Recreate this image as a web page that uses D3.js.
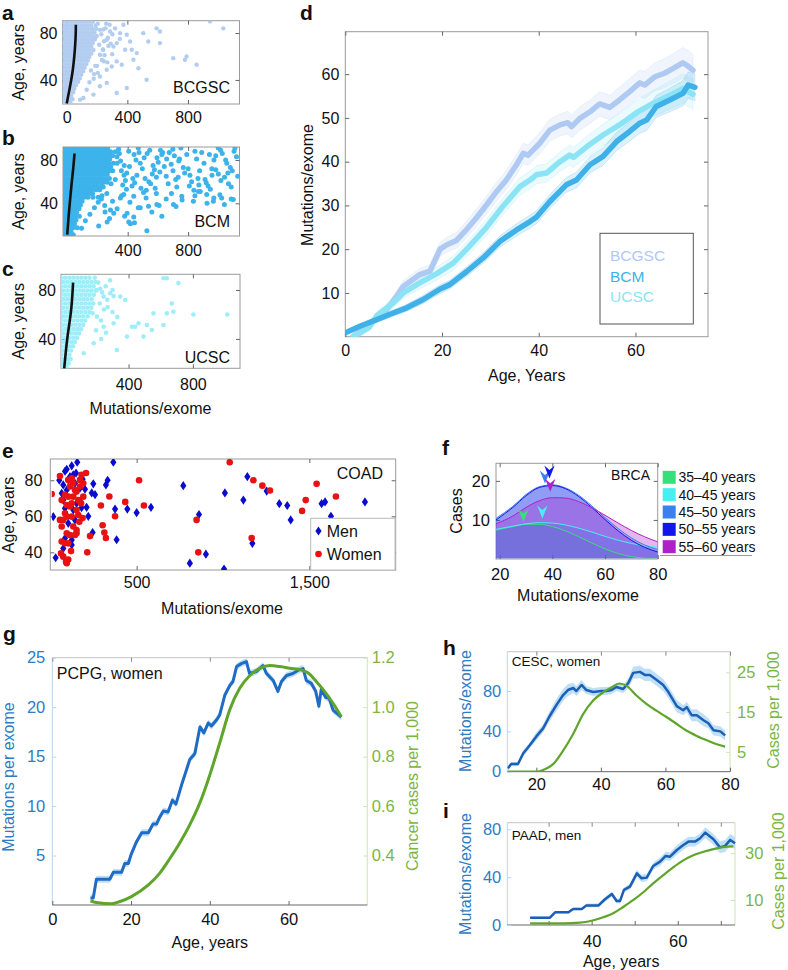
<!DOCTYPE html>
<html>
<head>
<meta charset="utf-8">
<script src="https://cdn.jsdelivr.net/npm/d3@7"></script>
<style>
body { margin: 0; background: #fff; }
svg { font-family: "Liberation Sans", Arial, Helvetica, sans-serif; }
</style>
</head>
<body>
<svg id="fig" width="788" height="970"></svg>
<script>
// ---------------- data ----------------

// a-c: dense part written as rows [age, mutations...], sparse part as [mutations, age]
const aRows = [
   [89.5, -26, -4, 18, 40, 62, 84, 106, 128, 150, 172],
   [86.5, -15, 7, 29, 51, 73, 95, 117, 139, 161, 190],
   [83.5, -26, -4, 18, 40, 62, 84, 106, 128, 150, 172, 196],
   [80.5, -15, 7, 29, 51, 73, 95, 117, 139, 161, 183],
   [77.5, -26, -4, 18, 40, 62, 84, 106, 128, 150, 172, 198],
   [74.5, -15, 7, 29, 51, 73, 95, 117, 139, 161, 185],
   [71.5, -26, -4, 18, 40, 62, 84, 106, 128, 150, 172],
   [68.5, -15, 7, 29, 51, 73, 95, 117, 139, 161],
   [65.5, -26, -4, 18, 40, 62, 84, 106, 128, 150, 176],
   [62.5, -15, 7, 29, 51, 73, 95, 117, 139, 162],
   [59.5, -26, -4, 18, 40, 62, 84, 106, 128, 148],
   [56.5, -15, 7, 29, 51, 73, 95, 117, 139],
   [53.5, -26, -4, 18, 40, 62, 84, 106, 130],
   [50.5, -15, 7, 29, 51, 73, 95, 118],
   [47.5, -26, -4, 18, 40, 62, 84, 108],
   [44.5, -15, 7, 29, 51, 73, 96],
   [41.5, -26, -4, 18, 40, 62, 86],
   [38.5, -15, 7, 29, 51, 75],
   [35.5, -26, -4, 18, 40, 60],
   [32.5, -15, 7, 29, 50],
   [29.5, -26, -4, 18, 42],
   [26.5, -15, 7, 29],
   [23.5, -26, -4, 18, 38],
   [20.5, -15, 7, 24]
];
const aOuter = [[219,82.7],[286,81.3],[319,84],[330,71.4],[352,79.9],[374,87],[396,78.5],[418,72.8],[429,65.7],
   [440,57.2],[462,62.9],[473,50],[505,79.9],[527,40.2],[538,72.8],[593,84],[615,71.4],[615,81.3],[703,58.6],
   [791,60],[780,57.2],[857,53],[945,89.9],[1033,84],[330,28.9],[396,33.2],[219,43],[264,48.7],[297,51.5],
   [330,55.8],[363,53],[219,34.6],[264,37.5],[176,27.5],[132,31.7],[110,24.6],[88,23.2],[385,65.7],[308,68.5],
   [264,74.2],[241,65.7],[219,61.5],[187,75.6],[260,88],[300,62],[350,75],[245,56],[275,69],[200,52],[180,45],
   [150,38],[240,83],[205,88],[228,79],[214,70],[238,66],[256,84],[272,76],[249,61],[290,71],[232,57],[268,55],
   [188,52],[205,46],[178,41],[160,48],[283,87],[301,79],[246,73]];
const aTrend = [[0,20],[15,30],[30,40],[42,50],[50,60],[56,70],[60,80],[60,87]];

const bRows = [
   [91, -25, 0, 25, 50, 75, 100, 125, 150, 175, 200, 225, 250, 268],
   [87.5, -13, 12, 37, 62, 87, 112, 137, 162, 187, 212, 237, 262, 287, 318],
   [84, -25, 0, 25, 50, 75, 100, 125, 150, 175, 200, 225, 250, 275, 300],
   [80.5, -13, 12, 37, 62, 87, 112, 137, 162, 187, 212, 237, 262, 281],
   [77, -25, 0, 25, 50, 75, 100, 125, 150, 175, 200, 225, 250, 275, 305, 330],
   [73.5, -13, 12, 37, 62, 87, 112, 137, 162, 187, 212, 237, 262, 287],
   [70, -25, 0, 25, 50, 75, 100, 125, 150, 175, 200, 225, 250, 278, 301],
   [66.5, -13, 12, 37, 62, 87, 112, 137, 162, 187, 212, 237, 265],
   [63, -25, 0, 25, 50, 75, 100, 125, 150, 175, 200, 225, 252, 279],
   [59.5, -13, 12, 37, 62, 87, 112, 137, 162, 187, 212, 240, 264],
   [56, -25, 0, 25, 50, 75, 100, 125, 150, 175, 200, 228],
   [52.5, -13, 12, 37, 62, 87, 112, 137, 162, 190, 215],
   [49, -25, 0, 25, 50, 75, 100, 125, 150, 168],
   [45.5, -13, 12, 37, 62, 87, 112, 137, 170, 205],
   [42, -25, 0, 25, 50, 75, 98],
   [38.5, -13, 12, 37, 62, 87],
   [35, -25, 0, 25, 50, 78],
   [31.5, -13, 12, 37, 62],
   [28, -25, 0, 25, 50, 80],
   [24.5, -13, 12, 37, 58],
   [21, -25, 0, 25, 48],
   [17.5, -13, 12, 37, 66],
   [14, -25, 0, 25],
   [11, -13, 12, 40]
];
const bOuter = [[208,19],[264,22.7],[286,33.8],[308,30.8],[396,30.8],[407,22.7],[440,27.3],[527,14.7],[418,21],
   [352,45],[374,48.1],[440,46.6],[483,35.8],[538,37.3],[626,28.1],[593,38.9],[703,38.9],[758,46.6],[835,42],
   [923,48.1],[967,42],[1022,45],[1099,43.5],[868,51],[150,30],[180,36],[120,24],[205,41],[230,47],[95,17],
   [318,62],[905,77],[442,85],[1067,58],[577,71],[699,90],[353,79],[812,66],[488,54],[1120,83],
   [631,87],[394,68],[957,72],[540,60],[743,81],[1015,89],[367,57],[865,63],[602,78],[470,91],
   [1092,70],[725,55],[412,74],[983,84],[655,65],[529,86],[838,52],[340,90],[1041,64],[768,73],
   [455,80],[920,59],[688,76],[385,61],[1104,88],[563,67],[791,85],[497,72],[947,53],[617,89],
   [329,83],[876,70],[718,62],[1056,77],[429,56],[594,82],[1000,67],[752,91],[515,63],[890,87],
   [668,58],[377,75],[971,80],[546,89],[823,60],[1079,73],[461,66],[709,84],[932,56],[642,74],
   [407,88],[1128,65],[582,54],[856,81],[358,70],[1026,86],[777,68],[483,77],[912,62],[626,85],
   [999,91],[552,58],[738,79],[434,63],[1085,55],[675,87],[800,72],[345,86],[958,66],[509,82],
   [871,57],[613,69],[1048,80],[392,53],[734,64],[1110,91],[568,75],[845,88],[446,59],[983,71],
   [658,81],[523,52],[1063,68],[808,56],[376,66],[941,85],[700,70],[475,87],[1017,61],[590,64],
   [360,47],[415,41],[522,45],[608,38],[690,49],[760,43],[845,47],[925,40],[1010,48],[1085,44],
   [470,36],[560,32],[380,28],[445,22],[330,35],[505,50],[655,44],[720,37],[880,51],[970,45],
   [1040,39],[590,49],[300,42],[280,26],[250,32],[238,55],[262,49],[226,44],[290,58],[248,38]];
const bTrend = [[0,11],[10,30],[20,45],[30,60],[40,72],[48,86]];

const cRows = [
   [90, -18, 7, 32, 57, 82, 107, 132, 157],
   [86.5, -6, 19, 44, 69, 94, 119, 144, 169, 194],
   [83, -18, 7, 32, 57, 82, 107, 132, 157, 182],
   [79.5, -6, 19, 44, 69, 94, 119, 144, 169, 196],
   [76, -18, 7, 32, 57, 82, 107, 132, 157, 184],
   [72.5, -6, 19, 44, 69, 94, 119, 144, 170],
   [69, -18, 7, 32, 57, 82, 107, 132, 157, 180],
   [65.5, -6, 19, 44, 69, 94, 119, 144, 168],
   [62, -18, 7, 32, 57, 82, 107, 132, 158],
   [58.5, -6, 19, 44, 69, 94, 119, 146],
   [55, -18, 7, 32, 57, 82, 107, 130],
   [51.5, -6, 19, 44, 69, 94, 118],
   [48, -18, 7, 32, 57, 82, 104],
   [44.5, -6, 19, 44, 69, 92],
   [41, -18, 7, 32, 57, 80],
   [37.5, -6, 19, 44, 66],
   [34, -18, 7, 32, 55],
   [30.5, -6, 19, 42],
   [27, -18, 7, 32],
   [23.5, -6, 19, 40],
   [20, -18, 7, 28],
   [17, -6, 15]
];
const cOuter = [[203,80],[224,81],[245,74.6],[286,77.3],[307,75],[348,74.6],[379,71.8],[390,41.9],[307,52.8],
   [245,50],[203,58.2],[183,36.5],[327,31],[121,28.3],[441,50],[493,41.9],[545,47.3],[617,51.4],[638,60.9],
   [669,69],[679,62.2],[617,89.6],[638,89.6],[710,85.6],[803,60],[1014,60],[555,60.9],[514,51.4],[462,52.8],
   [421,50],[270,66],[300,62],[330,58],[260,45],[230,40],[212,86],[236,78],[258,83],[221,69],[247,64],[268,72],
   [229,55],[198,47],[176,61],[285,88],[300,80],[190,90]];
const cTrend = [[0,16],[10,30],[20,42],[35,55],[45,65],[52,78],[55,86]];

// d: mutations/exome by age for the three centres, with band half widths
const bcgscAge = [2,4,6,8,10.6,12,15.4,17.5,19.6,21,23,25,27,29.2,31.3,33.3,35.4,36.8,37.8,40.2,42.3,44.4,46,46.8,48.5,50.6,52.6,54.7,56.7,58.8,60.9,61.9,64,66,67.8,69.8,70.9,71.9];
const bcgscVal = [0.5,1.8,3.8,5.4,9.2,11.5,14.2,15,20,21,22,24.4,27,30.1,33.2,35.8,39.3,41.9,41.5,44.2,47.2,48.4,48.9,48,49.9,51.4,53.2,52.4,54.1,56,58,57.5,59.4,60.2,61.3,62.6,61.8,60.9];
const bcgscBand = [0.5,0.6,0.8,1,1.2,1.3,1.4,1.5,1.6,1.7,1.8,1.9,2,2,2.1,2.2,2.3,2.3,2.3,2.4,2.5,2.5,2.6,2.6,2.7,2.7,2.8,2.8,2.9,3,3,3.1,3.2,3.3,3.4,3.5,3.6,3.6];
const ucscAge = [1.5,3,5,6.5,9.9,12,15.4,18.9,22.3,25.8,29.2,32.6,36.1,38.2,39.5,41.6,44.4,46.4,47.2,49.9,53.3,56.7,60.2,63.6,67.1,69.8,71.9];
const ucscVal = [0,0.8,2.2,4.8,7.7,10,12.3,14.4,16.8,20.8,25,29.8,34.3,35.8,37,37.4,40,41.5,41,43.4,46.1,48.4,51.2,53.3,55.2,56.7,55.4];
const ucscBand = [0.4,0.5,0.7,0.9,1.1,1.2,1.4,1.5,1.6,1.7,1.8,1.9,2,2,2.1,2.1,2.2,2.3,2.3,2.4,2.5,2.6,2.8,3,3.2,3.4,3.5];
const bcmAge = [0,3,6.5,9.9,12.7,16.1,19.6,21.6,25.1,28.5,32,35.4,38.2,39.5,42.3,45.7,47.8,50.6,53.3,56.1,58.8,60.9,62.3,64.3,67.1,69.8,70.9,72.3];
const bcmVal = [0.9,2.4,3.9,5.4,6.6,8.5,10.9,11.9,14.9,18,21.8,24.4,26.3,27.3,30.9,34.7,35.8,39.3,41.2,44.6,46.9,48.8,49.5,52.6,54.1,55.6,57.5,57];
const bcmBand = [0.4,0.5,0.6,0.7,0.8,0.9,1,1,1.1,1.2,1.3,1.4,1.5,1.5,1.6,1.7,1.8,1.9,2,2.1,2.2,2.3,2.4,2.5,2.7,2.9,3,3.1];
const centres = ["BCGSC", "BCM", "UCSC"];

// e: COAD [mutations, age]
const eMen = [[17,59.8],[31,37],[52,80],[75,69],[85,85],[124,88],[156,90],[149,84],[133,83],[172,75.6],[187,80.6],
   [201,75],[210,65],[220,60],[240,73],[249,78],[259,72],[245,51],[322,77.4],[332,80],[365,90],[375,64],[384,47],
   [446,64],[500,62],[583,65],[770,77],[808,34],[861,61],[901,39],[1006,30.7],[1011,73],[1118,69],[1141,82],
   [1170,45],[1253,74],[1326,67],[1372,66],[1392,58],[1571,67],[1591,68],[1625,60],[1822,68],
   [75,77.4],[95,86.1],[104,80.2],[66,72.8],[85,64.4],[104,56.1],[85,47.8],[75,42.2],[124,46.9],[124,44.1],
   [143,58],[133,63.5],[152,67.2],[172,68.5],[114,82],[181,64.8],[143,78.3],[95,74.6]];
const eWomen = [[8,72.4],[56,82.4],[56,58],[66,54.3],[66,46],[62,39.4],[75,37.6],[91,34.8],[104,36],[95,34],
   [120,40.7],[152,50.6],[207,84],[187,59],[214,40],[230,49],[293,66],[303,55],[313,51],[322,48],[342,71],[375,60],
   [434,68],[514,80],[542,66],[847,58],[857,40],[1039,90],[1166,48],[1176,80],[1228,77],[1272,74.3],[1458,63],
   [1479,69],[1542,78],[1654,71],
   [85,45],[95,50.6],[85,61.7],[95,66.3],[104,70.9],[114,76.5],[104,80.2],[124,81.1],[133,78.3],[143,74.6],
   [133,70.9],[124,67.2],[124,59.8],[133,54.3],[114,49.6],[143,49.6],[152,52.4],[104,45],[162,60.7],[172,80.2],
   [181,83],[191,78.3],[178,67.2],[191,70.9],[152,63.5],[168,57],[75,58],[95,59.8],[114,65.4],[152,73.7],
   [66,69],[85,71.9],[172,76.5],[162,69]];

// f: BRCA case distributions by mutations/exome
const fX = [18.6, 25, 30, 35, 40, 45, 50, 55, 60, 65, 70, 75, 80];
const fGroups = ["35–40 years", "40–45 years", "45–50 years", "50–55 years", "55–60 years"];
const fCases = [
   [7.4, 8.3, 8.9, 8.9, 8.3, 7.2, 5.7, 4.1, 2.6, 1.4, 0.6, 0.2, 0.0],
   [7.6, 8.4, 9.0, 9.3, 9.2, 8.7, 7.9, 6.9, 5.8, 4.8, 4.0, 3.4, 3.0],
   [10.4, 13.5, 16.5, 18.5, 19.0, 18.2, 16.3, 13.6, 10.6, 7.8, 5.4, 3.6, 2.4],
   [10.0, 13.2, 16.2, 18.3, 18.8, 18.0, 16.0, 13.2, 10.1, 7.2, 4.8, 3.0, 1.8],
   [9.0, 11.0, 13.2, 14.9, 15.7, 15.6, 14.7, 13.1, 11.2, 9.2, 7.3, 5.7, 4.4]
];
const fPeakX = [29, 36.2, 37.2, 38.9, 39.2];
const fPeakY = [9.5, 10.4, 19.3, 20.6, 17.2];

// g: PCPG, women
const gBlueAge = [9.7,10.4,11.2,14.6,15.5,17.6,18.4,19.3,20.1,21.4,22.7,24.4,25.6,26.5,27.3,28.2,29.4,30.5,31.4,32.8,34.1,34.9,36.2,37.5,38.5,39.6,40.4,41.7,42.5,43.8,45.1,45.9,46.8,48.0,49.3,50.1,51.8,53.5,54.4,56.1,57.3,58.2,59.5,61.1,62.8,63.7,64.5,65.8,66.9,67.7,68.3,69.4,70.3,71.3,73.4];
const gBlueVal = [0.7,0.7,2.6,2.6,3.3,3.3,4.2,4.2,5.2,6.4,7.3,7.3,8.2,8.2,8.9,9.5,9.4,10.6,10.2,12.1,13.7,14.7,15.3,18.0,17.4,18.4,18.1,18.7,19.2,21.2,22.2,22.6,24.1,24.4,24.6,23.4,23.6,24.2,23.4,22.7,21.6,22.6,23.2,23.4,23.8,23.9,22.7,22.4,21.6,20.1,21.8,21.0,20.9,19.7,19.0];
const gBand = 0.35;
const gGreenAge = [9.7,11.2,15.1,17.2,20.1,24.4,27.3,29.9,32.4,34.9,37.5,40.0,42.5,45.1,47.6,50.1,52.7,55.2,57.8,60.3,63.3,64.9,67.1,69.2,71.3,73.4];
const gGreenVal = [0.217,0.210,0.205,0.214,0.234,0.281,0.329,0.389,0.452,0.524,0.614,0.726,0.854,0.991,1.076,1.127,1.157,1.168,1.164,1.157,1.150,1.139,1.103,1.063,1.016,0.962];

// h: CESC, women
const hBlueAge = [11.2,12.2,14.3,15.9,17.9,20,22.1,24.1,26.2,28.3,29.8,31.4,32.4,34.0,35.5,37.6,40.2,41.7,43.3,44.8,46.9,48.5,50.0,52.1,53.6,55.2,57.3,59.3,60.9,62.4,63.5,65.5,66.6,68.1,69.7,71.8,73.3,74.9,77.0,78.5];
const hBlueVal = [3.3,7.6,7.6,18,26,35,43,55,66,76,81,83,80,86,81,79,80,80,81,84,82,88,98,99,96,96,91,86,79,71,65,61,64,56,56,51,48,41,40,36];
const hBand = [2,2,2,3,3,4,4,5,6,6,6,5,5,5,4,4,4,4,4,4,4,5,6,6,6,6,6,6,6,6,6,5,5,6,6,6,5,5,5,5];
const hGreenAge = [11.2,20.5,22.6,25.2,28.3,31.4,34.5,37.6,40.7,43.3,45.7,48.0,51.1,54.2,57.3,60.4,63.5,66.6,69.7,72.8,75.9,78.5];
const hGreenVal = [0,0,0.6,1.9,5.3,9.5,14.5,17.9,20.0,21.2,22.2,21.6,19.1,17.0,15.3,13.7,12.0,10.3,9.0,7.9,6.9,6.3];

// i: PAAD, men
const iBlueAge = [25.7,30.3,31.5,34.6,35.7,37.7,38.8,41.6,43.1,44.7,45.8,46.6,47.5,48.9,50.5,51.6,52.8,54.3,55.9,57.2,58.2,59.8,61.3,62.5,64.0,65.2,66.4,67.5,68.3,69.8,71.0,72.2,73.3];
const iBlueVal = [6.1,6.1,10.6,10.6,13.4,13.4,16.4,16.4,21.5,25.9,20.1,20.1,29.3,32.1,43.2,39.0,39.6,49.3,53.0,57.7,57.1,62.7,66.9,69.7,69.7,72.5,77.2,73.9,71.6,64.9,66.1,71.1,68.3];
const iBand = [1,1,1,1,1,1,1.5,1.5,2,2,2,2,2,2.5,3,3,3,3,3.5,3.5,3.5,4,4,4,4,4,4.5,4.5,4.5,5,5,5,5];
const iGreenAge = [25.7,33.4,37.3,40.0,42.7,45.0,47.4,49.7,52.0,54.3,56.7,59.0,61.3,63.6,66.0,68.3,70.5,72.9];
const iGreenVal = [0,0,0.3,1.1,2.6,4.3,7.1,10.0,13.3,17.1,20.7,24.0,26.9,29.1,30.6,31.7,32.6,32.9];

// ---------------- helpers ----------------
const FONT = '"Liberation Sans", Arial, Helvetica, sans-serif';
const BLUE_TXT = "#2d7cc4";
const GREEN_TXT = "#7db544";
const svg = d3.select("#fig");
const defs = svg.append("defs");

function clip(id, x0, y0, x1, y1) {
   defs.append("clipPath").attr("id", id).append("rect")
      .attr("x", x0).attr("y", y0).attr("width", x1 - x0).attr("height", y1 - y0);
   return `url(#${id})`;
}

function label(txt, x, y, o = {}) {
   const t = svg.append("text").attr("x", x).attr("y", y)
      .attr("font-size", o.size || 16).attr("fill", o.color || "#111")
      .attr("text-anchor", o.anchor || "start").text(txt);
   if (o.bold) t.attr("font-weight", "bold");
   return t;
}

function vlabel(txt, x, cy, o = {}) {
   return svg.append("text").attr("transform", `translate(${x},${cy}) rotate(-90)`)
      .attr("font-size", o.size || 16).attr("fill", o.color || "#111")
      .attr("text-anchor", "middle").text(txt);
}

function styleAxis(sel, tickColor, textColor, size) {
   sel.attr("font-family", null).attr("font-size", null);
   sel.select(".domain").remove();
   sel.selectAll(".tick line").attr("stroke", tickColor);
   sel.selectAll(".tick text").attr("font-family", FONT).attr("font-size", size).attr("fill", textColor);
}

// Matlab-like box with inward ticks on all four sides
function boxAxes(x, y, o) {
   const [x0, x1] = x.range();
   const [y0, y1] = y.range();
   const tk = 4, size = o.size || 16;
   const g = svg.append("g");
   g.append("rect").attr("x", x0).attr("y", y1).attr("width", x1 - x0).attr("height", y0 - y1)
      .attr("fill", "none").attr("stroke", o.stroke || "#9a9a9a");
   g.append("g").attr("transform", `translate(0,${y0})`)
      .call(d3.axisBottom(x).tickValues(o.xTicks).tickSize(-tk).tickPadding(o.xPad || 7).tickFormat(o.xFmt || (d => d)))
      .call(s => styleAxis(s, "#666", "#111", size));
   g.append("g").attr("transform", `translate(0,${y1})`)
      .call(d3.axisTop(x).tickValues(o.xTicks).tickSize(-tk).tickFormat(""))
      .call(s => styleAxis(s, "#666", "#111", size));
   g.append("g").attr("transform", `translate(${x0},0)`)
      .call(d3.axisLeft(y).tickValues(o.yTicks).tickSize(-tk).tickPadding(o.yPad || 6).tickFormat(o.yFmt || (d => d)))
      .call(s => styleAxis(s, "#666", "#111", size));
   g.append("g").attr("transform", `translate(${x1},0)`)
      .call(d3.axisRight(y).tickValues(o.yTicks).tickSize(-tk).tickFormat(""))
      .call(s => styleAxis(s, "#666", "#111", size));
}

function rowsToPoints(rows) {
   return rows.flatMap(r => r.slice(1).map(m => [m, r[0]]));
}

// ---------------- panels a-c ----------------
function scatterPanel(p) {
   const x = d3.scaleLinear().domain(p.xDomain).range([p.left, p.right]);
   const y = d3.scaleLinear().domain(p.yDomain).range([p.bottom, p.top]);
   boxAxes(x, y, { xTicks: p.xTicks, yTicks: [40, 80], xPad: p.xPad, yPad: 5 });
   const pts = rowsToPoints(p.rows).concat(p.outer);
   svg.append("g").attr("clip-path", clip(p.id, p.left, p.top, p.right, p.bottom))
      .selectAll("circle").data(pts).join("circle")
      .attr("cx", d => x(d[0])).attr("cy", d => y(d[1]))
      .attr("r", p.r).attr("fill", p.color);
   svg.append("path").datum(p.trend)
      .attr("fill", "none").attr("stroke", "#111").attr("stroke-width", 2.6)
      .attr("d", d3.line().x(d => x(d[0])).y(d => y(d[1])).curve(d3.curveBasis));
   label(p.name, 230, p.nameY, { anchor: "end" });
   vlabel("Age, years", 24, (p.top + p.bottom) / 2);
   label(p.letter, 2, p.letterY, { bold: true, size: 21 });
}

scatterPanel({ id: "ca", letter: "a", letterY: 20, name: "BCGSC", nameY: 93, rows: aRows, outer: aOuter,
   trend: aTrend, color: "#b3cdf0", r: 2.2, xDomain: [-28, 1140], yDomain: [19.5, 90.5],
   left: 62.5, right: 239.5, top: 20.7, bottom: 104, xTicks: [0, 400, 800], xPad: 8 });
scatterPanel({ id: "cb", letter: "b", letterY: 145, name: "BCM", nameY: 227, rows: bRows, outer: bOuter,
   trend: bTrend, color: "#3cb3ea", r: 2.5, xDomain: [-28, 1140], yDomain: [9.8, 92],
   left: 63, right: 239.5, top: 147, bottom: 236, xTicks: [400, 800], xPad: 9 });
scatterPanel({ id: "cc", letter: "c", letterY: 276, name: "UCSC", nameY: 362.5, rows: cRows, outer: cOuter,
   trend: cTrend, color: "#9eeefa", r: 2.3, xDomain: [-20, 1093], yDomain: [16, 92.8],
   left: 61, right: 240, top: 274.3, bottom: 368.3, xTicks: [400, 800], xPad: 10 });
label("Mutations/exome", 150.5, 414, { anchor: "middle" });

// ---------------- panel d ----------------
{
   const x = d3.scaleLinear().domain([0, 75]).range([345.3, 708]);
   const y = d3.scaleLinear().domain([0, 69.7]).range([336.7, 31.7]);
   boxAxes(x, y, { xTicks: [0, 20, 40, 60], yTicks: [10, 20, 30, 40, 50, 60], xPad: 8, yPad: 6 });
   const series = [
      { age: bcgscAge, val: bcgscVal, band: bcgscBand, color: "#aec9f2" },
      { age: ucscAge, val: ucscVal, band: ucscBand, color: "#8ae4f6" },
      { age: bcmAge, val: bcmVal, band: bcmBand, color: "#3fb1e8" }
   ];
   const g = svg.append("g").attr("clip-path", clip("cd", 345.3, 31.7, 708, 336.7));
   series.forEach(s => {
      const rows = s.age.map((a, i) => [a, s.val[i], s.band[i]]);
      g.append("path").datum(rows).attr("fill", s.color).attr("fill-opacity", 0.18)
         .attr("stroke", s.color).attr("stroke-opacity", 0.25).attr("stroke-width", 0.8)
         .attr("d", d3.area().x(d => x(d[0])).y0(d => y(d[1] - d[2])).y1(d => y(d[1] + d[2])));
   });
   series.forEach(s => {
      const rows = s.age.map((a, i) => [a, s.val[i]]);
      g.append("path").datum(rows).attr("fill", "none").attr("stroke", s.color)
         .attr("stroke-width", 5.5).attr("stroke-linejoin", "round").attr("stroke-linecap", "round")
         .attr("d", d3.line().x(d => x(d[0])).y(d => y(d[1])));
   });
   // legend
   svg.append("rect").attr("x", 600).attr("y", 233.3).attr("width", 93.3).attr("height", 90.7)
      .attr("fill", "#fff").attr("stroke", "#555");
   const legColors = { BCGSC: "#aec9f2", BCM: "#3fb1e8", UCSC: "#8ae4f6" };
   centres.forEach((c, i) => label(c, 610, 261 + i * 20.7, { color: legColors[c], size: 15.5 }));
   vlabel("Mutations/exome", 313, 185);
   label("Age, Years", 526.7, 380.5, { anchor: "middle" });
   label("d", 300, 20, { bold: true, size: 21 });
}

// ---------------- panel e ----------------
{
   const x = d3.scaleLinear().domain([0, 2000]).range([50.3, 395.7]);
   const y = d3.scaleLinear().domain([30.2, 91.8]).range([570, 459]);
   boxAxes(x, y, { xTicks: [500, 1500], yTicks: [40, 60, 80], xFmt: d3.format(","), xPad: 7, yPad: 8 });
   const g = svg.append("g").attr("clip-path", clip("ce", 51.7, 459, 395, 570));
   const diamond = "M0,-4.6L3.1,0L0,4.6L-3.1,0Z";
   g.selectAll("path.men").data(eMen).join("path").attr("class", "men")
      .attr("transform", d => `translate(${x(d[0])},${y(d[1])})`).attr("d", diamond).attr("fill", "#0b0bd0");
   g.selectAll("circle").data(eWomen).join("circle")
      .attr("cx", d => x(d[0])).attr("cy", d => y(d[1])).attr("r", 3.3).attr("fill", "#e81212");
   // legend
   svg.append("rect").attr("x", 310.7).attr("y", 518.3).attr("width", 84.3).attr("height", 51.7)
      .attr("fill", "#fff").attr("stroke", "#bbb");
   svg.append("path").attr("transform", "translate(318.5,531)").attr("d", diamond).attr("fill", "#0b0bd0");
   svg.append("circle").attr("cx", 318.5).attr("cy", 554).attr("r", 3.3).attr("fill", "#e81212");
   label("Men", 326.7, 536.5);
   label("Women", 326.7, 559.5);
   label("COAD", 383, 479, { anchor: "end" });
   vlabel("Age, years", 14, 515);
   label("Mutations/exome", 222, 614, { anchor: "middle" });
   label("e", 2, 458, { bold: true, size: 21 });
}

// ---------------- panel f ----------------
{
   const x = d3.scaleLinear().domain([18.6, 80]).range([496, 657.7]);
   const y = d3.scaleLinear().domain([0, 24.5]).range([559, 463.3]);
   boxAxes(x, y, { xTicks: [20, 40, 60, 80], yTicks: [10, 20], xPad: 9, yPad: 6, size: 16.5 });
   const colors = ["#33e07a", "#45f0f0", "#3a80f0", "#1414ee", "#b020c8"];
   const alpha = [0.35, 0.35, 0.3, 0.3, 0.33];
   const g = svg.append("g").attr("clip-path", clip("cf", 496, 463.3, 657.7, 558.3));
   fCases.forEach((c, k) => {
      const rows = fX.map((v, i) => [v, c[i]]);
      g.append("path").datum(rows).attr("fill", colors[k]).attr("fill-opacity", alpha[k])
         .attr("d", d3.area().x(d => x(d[0])).y0(y(0)).y1(d => y(d[1])).curve(d3.curveMonotoneX));
   });
   fCases.forEach((c, k) => {
      const rows = fX.map((v, i) => [v, c[i]]);
      g.append("path").datum(rows).attr("fill", "none").attr("stroke", colors[k]).attr("stroke-width", 1)
         .attr("d", d3.line().x(d => x(d[0])).y(d => y(d[1])).curve(d3.curveMonotoneX));
   });
   // peak markers
   const arrow = "M0,0L-5.2,-13L0,-8.5L5.2,-13Z";
   fPeakX.forEach((v, k) => {
      svg.append("path").attr("transform", `translate(${x(v)},${y(fPeakY[k])})`)
         .attr("d", arrow).attr("fill", colors[k]);
   });
   label("BRCA", 650, 480, { anchor: "end", size: 14 });
   // legend
   fGroups.forEach((t, k) => {
      const cy = 477.3 + k * 17.35;
      svg.append("rect").attr("x", 662.7).attr("y", cy - 6.5).attr("width", 13).attr("height", 13).attr("fill", colors[k]);
      label(t, 678.5, cy + 5, { size: 14 });
   });
   svg.append("line").attr("x1", 660).attr("x2", 752).attr("y1", 555.5).attr("y2", 555.5)
      .attr("stroke", "#999");
   vlabel("Cases", 462, 511);
   label("Mutations/exome", 578, 601, { anchor: "middle" });
   label("f", 442, 455, { bold: true, size: 21 });
}

// ---------------- panels g-i (two y axes) ----------------
function dualPanel(p) {
   const x = d3.scaleLinear().domain(p.xDomain).range([p.left, p.right]);
   const yL = d3.scaleLinear().domain(p.yLDomain).range([p.bottom, p.top]);
   const yR = d3.scaleLinear().domain(p.yRDomain).range([p.bottom, p.top]);
   const g = svg.append("g");
   const size = 16.5, tk = 4;
   g.append("line").attr("x1", p.left).attr("x2", p.right).attr("y1", p.top).attr("y2", p.top).attr("stroke", "#c4c4c4");
   g.append("line").attr("x1", p.left).attr("x2", p.left).attr("y1", p.top).attr("y2", p.bottom).attr("stroke", "#b7d6f0");
   g.append("line").attr("x1", p.right).attr("x2", p.right).attr("y1", p.top).attr("y2", p.bottom).attr("stroke", "#cfe4b4");
   g.append("line").attr("x1", p.left).attr("x2", p.right).attr("y1", p.bottom).attr("y2", p.bottom).attr("stroke", "#666");
   g.append("g").attr("transform", `translate(0,${p.bottom})`)
      .call(d3.axisBottom(x).tickValues(p.xTicks).tickSize(-tk).tickPadding(p.xPad).tickFormat(p.xFmt || (d => d)))
      .call(s => styleAxis(s, "#666", "#111", size));
   g.append("g").attr("transform", `translate(0,${p.top})`)
      .call(d3.axisTop(x).tickValues(p.xTicks).tickSize(-tk).tickFormat(""))
      .call(s => styleAxis(s, "#888", "#111", size));
   g.append("g").attr("transform", `translate(${p.left},0)`)
      .call(d3.axisLeft(yL).tickValues(p.yLTicks).tickSize(-tk).tickPadding(p.yLPad).tickFormat(p.yLFmt || (d => d)))
      .call(s => styleAxis(s, "#b7d6f0", BLUE_TXT, size));
   g.append("g").attr("transform", `translate(${p.right},0)`)
      .call(d3.axisRight(yR).tickValues(p.yRTicks).tickSize(-tk).tickPadding(p.yRPad).tickFormat(p.yRFmt || (d => d)))
      .call(s => styleAxis(s, "#cfe4b4", GREEN_TXT, size));

   const band = p.blueAge.map((a, i) => [a, p.blueVal[i], Array.isArray(p.band) ? p.band[i] : p.band]);
   const d = svg.append("g").attr("clip-path", clip(p.id, p.left, p.top - 3, p.right + 2, p.bottom));
   d.append("path").datum(band).attr("fill", "#a9d4f4").attr("opacity", 0.75)
      .attr("d", d3.area().x(v => x(v[0])).y0(v => yL(v[1] - v[2])).y1(v => yL(v[1] + v[2])));
   d.append("path").datum(band).attr("fill", "none").attr("stroke", p.blue).attr("stroke-width", p.blueW)
      .attr("stroke-linejoin", "round")
      .attr("d", d3.line().x(v => x(v[0])).y(v => yL(v[1])));
   const green = p.greenAge.map((a, i) => [a, p.greenVal[i]]);
   d.append("path").datum(green).attr("fill", "none").attr("stroke", "#5fa52b").attr("stroke-width", p.greenW)
      .attr("stroke-linejoin", "round")
      .attr("d", d3.line().x(v => x(v[0])).y(v => yR(v[1])).curve(d3.curveMonotoneX));

   label(p.name, p.left + 4.5, p.nameY, { size: p.nameSize });
   vlabel(p.yLLabel, p.yLx, p.yLcy, { color: BLUE_TXT });
   vlabel(p.yRLabel, p.yRx, p.yRcy, { color: GREEN_TXT });
   if (p.xLabel) label(p.xLabel, (p.left + p.right) / 2, p.xLabelY, { anchor: "middle" });
   label(p.letter, p.letterX, p.letterY, { bold: true, size: 21 });
}

dualPanel({ id: "cg", letter: "g", letterX: 3, letterY: 641, name: "PCPG, women", nameY: 679, nameSize: 16,
   xDomain: [0, 80], yLDomain: [0, 25], yRDomain: [0.2, 1.2],
   left: 52.3, right: 367.3, top: 657.7, bottom: 905,
   xTicks: [0, 20, 40, 60], xPad: 8, yLTicks: [5, 10, 15, 20, 25], yLPad: 7,
   yRTicks: [0.4, 0.6, 0.8, 1.0, 1.2], yRPad: 4.5, yRFmt: d3.format(".1f"),
   blueAge: gBlueAge, blueVal: gBlueVal, band: gBand, blue: "#1f6cc4", blueW: 3,
   greenAge: gGreenAge, greenVal: gGreenVal, greenW: 3,
   yLLabel: "Mutations per exome", yLx: 14, yLcy: 777,
   yRLabel: "Cancer cases per 1,000", yRx: 418, yRcy: 786,
   xLabel: "Age, years", xLabelY: 948 });

dualPanel({ id: "ch", letter: "h", letterX: 443, letterY: 655, name: "CESC, women", nameY: 666, nameSize: 13.5,
   xDomain: [11, 80], yLDomain: [0, 119], yRDomain: [0, 30.2],
   left: 507.3, right: 730, top: 651.7, bottom: 771.7,
   xTicks: [20, 40, 60, 80], xPad: 7, yLTicks: [0, 40, 80], yLPad: 6,
   yRTicks: [5, 15, 25], yRPad: 7,
   blueAge: hBlueAge, blueVal: hBlueVal, band: hBand, blue: "#1b5fb6", blueW: 2.5,
   greenAge: hGreenAge, greenVal: hGreenVal, greenW: 2.2,
   yLLabel: "Mutations/exome", yLx: 471, yLcy: 711,
   yRLabel: "Cases per 1,000", yRx: 779, yRcy: 710 });

dualPanel({ id: "ci", letter: "i", letterX: 443, letterY: 818, name: "PAAD, men", nameY: 840, nameSize: 13.5,
   xDomain: [20.4, 73.3], yLDomain: [0, 85.5], yRDomain: [-0.7, 43],
   left: 507.3, right: 735, top: 822.7, bottom: 925,
   xTicks: [30, 40, 50, 60, 70], xFmt: d => (d === 40 || d === 60 ? d : ""), xPad: 10,
   yLTicks: [0, 40, 80], yLPad: 6, yRTicks: [10, 30], yRPad: 10,
   blueAge: iBlueAge, blueVal: iBlueVal, band: iBand, blue: "#1b5fb6", blueW: 2.5,
   greenAge: iGreenAge, greenVal: iGreenVal, greenW: 2.2,
   yLLabel: "Mutations/exome", yLx: 471, yLcy: 874,
   yRLabel: "Cases per 1,000", yRx: 784, yRcy: 871,
   xLabel: "Age, years", xLabelY: 967 });
</script>
</body>
</html>
